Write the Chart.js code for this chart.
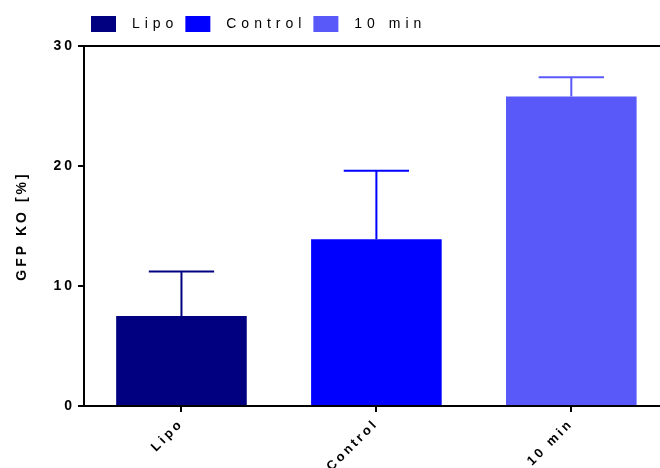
<!DOCTYPE html>
<html>
<head>
<meta charset="utf-8">
<script src="https://cdn.jsdelivr.net/npm/chart.js@4"></script>
<style>
  body { margin: 0; background: #fff; }
</style>
</head>
<body>
<canvas id="chart" width="660" height="468"></canvas>
<script>
// data
const groups = ['Lipo', 'Control', '10 min']
const means = [7.5, 13.9, 25.8]
const sds = [3.7, 5.7, 1.6]
const colors = ['#000080', '#0000FF', '#5959FA']
const yTicks = [0, 10, 20, 30]

const FONT = "'Liberation Sans', Arial, sans-serif"

// one dataset per group so the legend gets three entries
// x is the group index on a linear axis (the plot runs a bit past the right edge)
const datasets = groups.map((g, i) => ({
    label: g,
    data: [{ x: i, y: means[i] }],
    errors: [sds[i]],
    backgroundColor: colors[i],
    borderWidth: 0
}))

// upper error bars only, like the original
const errorBars = {
    id: 'errorBars',
    afterDatasetsDraw(chart) {
        const ctx = chart.ctx
        const y = chart.scales.y
        chart.data.datasets.forEach((ds, i) => {
            chart.getDatasetMeta(i).data.forEach((bar, j) => {
                const top = y.getPixelForValue(ds.data[j].y + ds.errors[j])
                const half = bar.width / 4
                ctx.save()
                ctx.strokeStyle = ds.backgroundColor
                ctx.lineWidth = 2
                ctx.beginPath()
                ctx.moveTo(bar.x, bar.y)
                ctx.lineTo(bar.x, top)
                ctx.moveTo(bar.x - half, top)
                ctx.lineTo(bar.x + half, top)
                ctx.stroke()
                ctx.restore()
            })
        })
    }
}

// the original text is widely letter-spaced
const spacing = {
    id: 'spacing',
    afterInit(chart) {
        const lg = chart.legend
        ;['fit', 'draw'].forEach(fn => {
            const orig = lg[fn].bind(lg)
            lg[fn] = (...a) => {
                chart.ctx.letterSpacing = '5px'
                orig(...a)
                chart.ctx.letterSpacing = '3px'
            }
        })
    },
    beforeLayout(chart) { chart.ctx.letterSpacing = '3px' },
    beforeDraw(chart) { chart.ctx.letterSpacing = '3px' }
}

Chart.defaults.color = '#000'
Chart.defaults.font.family = FONT

new Chart(document.getElementById('chart'), {
    type: 'bar',
    data: { datasets: datasets },
    options: {
        responsive: false,
        animation: false,
        grouped: false,
        barPercentage: 0.67,
        categoryPercentage: 1,
        layout: { padding: { top: 9, right: 0, left: 0, bottom: 0 } },
        plugins: {
            tooltip: { enabled: false },
            legend: {
                position: 'top',
                align: 'start',
                fullSize: false,
                labels: {
                    boxWidth: 25,
                    boxHeight: 16,
                    padding: 7,
                    font: { size: 14, family: FONT },
                    color: '#000',
                    generateLabels(chart) {
                        // small lead-in gap between box and text
                        return Chart.defaults.plugins.legend.labels.generateLabels(chart)
                            .map(l => ({ ...l, text: ' ' + l.text }))
                    }
                }
            }
        },
        scales: {
            x: {
                type: 'linear',
                offset: false,
                min: -0.5,
                max: 2.455,
                afterBuildTicks(s) { s.ticks = groups.map((_, i) => ({ value: i })) },
                grid: { drawOnChartArea: false, offset: false, tickLength: 6, color: '#000', lineWidth: 2 },
                border: { color: '#000', width: 2 },
                ticks: {
                    minRotation: 45, maxRotation: 45, padding: 4,
                    callback: v => groups[v],
                    font: { size: 13, weight: 'bold', family: FONT }
                },
                afterFit(s) { s.height = 62 }
            },
            top: {
                type: 'linear',
                position: 'top',
                grid: { drawOnChartArea: false, drawTicks: false },
                border: { color: '#000', width: 2 },
                ticks: { display: false },
                afterFit(s) { s.height = 4 }
            },
            y: {
                min: 0,
                max: 30,
                afterBuildTicks(s) { s.ticks = yTicks.map(v => ({ value: v })) },
                grid: { drawOnChartArea: false, tickLength: 6, color: '#000', lineWidth: 2 },
                border: { color: '#000', width: 2 },
                ticks: { padding: 3, font: { size: 14, weight: 'bold', family: FONT } },
                title: {
                    display: true,
                    text: 'GFP KO [%]',
                    padding: { top: 14, bottom: 10 },
                    font: { size: 14, weight: 'bold', family: FONT }
                },
                afterFit(s) { s.width = 84 }
            }
        }
    },
    plugins: [errorBars, spacing]
})
</script>
</body>
</html>
